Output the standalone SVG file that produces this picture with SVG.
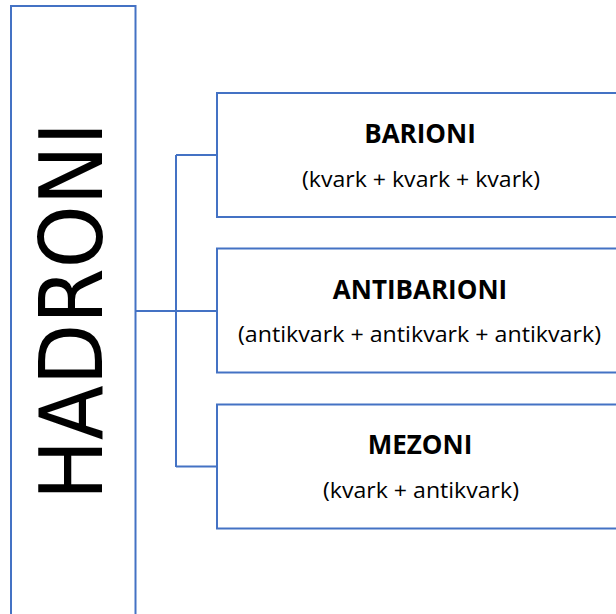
<svg xmlns="http://www.w3.org/2000/svg" width="616" height="614" viewBox="0 0 616 614">
<style>
.box{fill:#ffffff;stroke:#4472C4;stroke-width:2}
.conn{fill:none;stroke:#4472C4;stroke-width:2}
.title{font-family:"Open Sans","Liberation Sans",sans-serif;font-weight:bold;font-size:26px;fill:#000;text-anchor:middle}
.sub{font-family:"Open Sans","Liberation Sans",sans-serif;font-size:21.5px;fill:#000;text-anchor:middle;font-variant-ligatures:none}
.big{font-family:"DejaVu Sans","Liberation Sans",sans-serif;font-size:88px;fill:#000;text-anchor:middle}
</style>
<rect width="616" height="614" fill="#ffffff"/>
<g id="connectors">
<path class="conn" d="M135.5 311 H217 M176 155 V467 M176 155 H217 M176 466.5 H217"/>
</g>
<g id="hadroni">
<rect class="box" x="11" y="6" width="124.5" height="620"/>
<text class="big" transform="translate(102,311) rotate(-90)" x="0" y="0" textLength="378" lengthAdjust="spacingAndGlyphs">HADRONI</text>
</g>
<g id="barioni">
<rect class="box" x="217" y="93" width="410" height="124"/>
<text class="title" x="420" y="143">BARIONI</text>
<text class="sub" x="421" y="187" textLength="238" lengthAdjust="spacingAndGlyphs">(kvark + kvark + kvark)</text>
</g>
<g id="antibarioni">
<rect class="box" x="217" y="248.5" width="410" height="124"/>
<text class="title" x="420" y="299">ANTIBARIONI</text>
<text class="sub" x="419.5" y="342" textLength="363" lengthAdjust="spacingAndGlyphs">(antikvark + antikvark + antikvark)</text>
</g>
<g id="mezoni">
<rect class="box" x="217" y="404.5" width="410" height="124"/>
<text class="title" x="420" y="454">MEZONI</text>
<text class="sub" x="421" y="498" textLength="196" lengthAdjust="spacingAndGlyphs">(kvark + antikvark)</text>
</g>
</svg>
